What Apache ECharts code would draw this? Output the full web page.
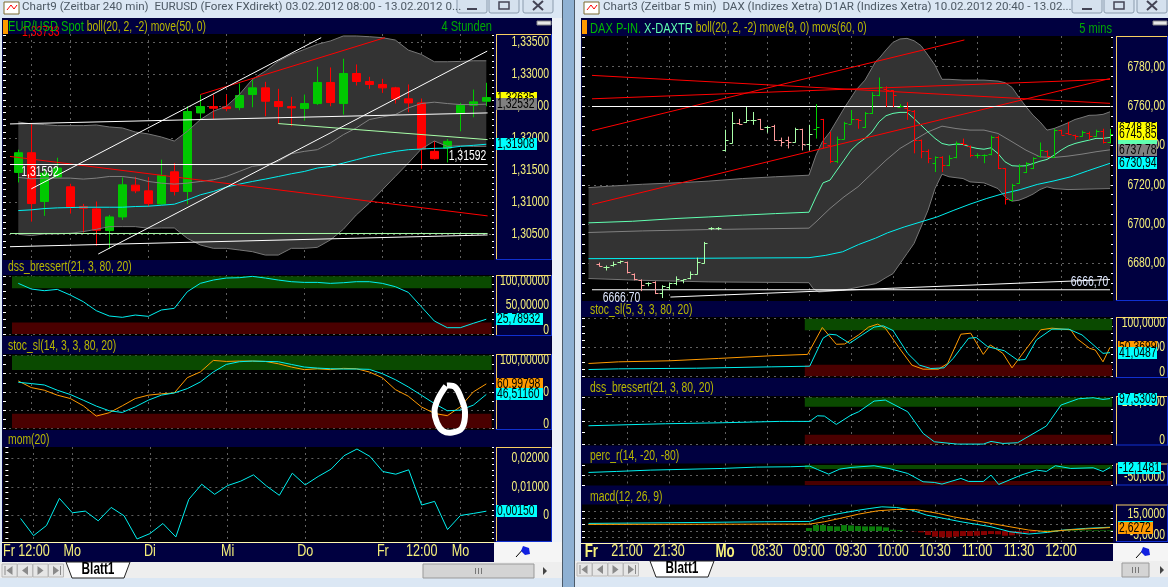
<!DOCTYPE html>
<html><head><meta charset="utf-8">
<style>html,body{margin:0;padding:0;background:#dfe8f2;overflow:hidden}#c{width:1168px;height:587px}</style>
<script src="https://cdn.jsdelivr.net/npm/echarts@6.0.0/dist/echarts.min.js"></script>
</head><body><div id="c"></div>
<script>
// ---------- EUR/USD (240 min): [open, close, low, high] ----------
const eurCandles=[[1.31469,1.31776,1.31313,1.31823],[1.31776,1.30984,1.30703,1.32224],[1.31016,1.31458,1.30792,1.31537],[1.31396,1.31537,1.3138,1.31698],[1.31245,1.30927,1.30828,1.31292],[1.30938,1.30912,1.30531,1.30979],[1.30901,1.30568,1.30328,1.31016],[1.30563,1.30776,1.30281,1.30807],[1.30776,1.31276,1.30729,1.31391],[1.31271,1.31182,1.31146,1.31401],[1.31182,1.30984,1.30938,1.31396],[1.30979,1.31422,1.30964,1.31667],[1.31479,1.31172,1.3111,1.31615],[1.31172,1.32417,1.30974,1.325],[1.32396,1.32495,1.32302,1.32677],[1.32495,1.32469,1.32302,1.32682],[1.3249,1.32464,1.32422,1.32682],[1.32479,1.32667,1.32438,1.32854],[1.32682,1.32786,1.32484,1.32917],[1.32786,1.32578,1.32344,1.3288],[1.32573,1.32495,1.32224,1.32771],[1.32495,1.32474,1.32188,1.32646],[1.32464,1.32542,1.32276,1.32682],[1.32542,1.3287,1.32521,1.33115],[1.3287,1.32557,1.325,1.33104],[1.32542,1.3301,1.3237,1.3324],[1.3301,1.32885,1.32823,1.33151],[1.32885,1.32839,1.32771,1.32958],[1.32839,1.32786,1.32708,1.32927],[1.32786,1.32615,1.32542,1.32802],[1.32615,1.32552,1.32406,1.32839],[1.32552,1.31833,1.31526,1.3262],[1.31797,1.31682,1.31667,1.31958],[1.31849,1.31953,1.31625,1.3199],[1.32385,1.32516,1.32109,1.32552],[1.32516,1.32568,1.32328,1.3276],[1.32578,1.32635,1.325,1.32865]];
const eurUpper=[1.32255,1.32224,1.32214,1.32198,1.32198,1.32198,1.32208,1.32177,1.32162,1.32099,1.32068,1.32021,1.31958,1.32109,1.32292,1.32422,1.325,1.32682,1.32917,1.33047,1.33203,1.33307,1.33385,1.33464,1.33516,1.33594,1.33594,1.33583,1.33568,1.33531,1.33375,1.33307,1.33193,1.33193,1.33198,1.33208,1.33208];
const eurLower=[1.30505,1.30485,1.30511,1.30511,1.30521,1.30547,1.30583,1.30625,1.30625,1.30625,1.30599,1.30604,1.30604,1.30443,1.30339,1.30287,1.30287,1.30261,1.30235,1.30182,1.30182,1.30287,1.30287,1.30302,1.30417,1.30583,1.30807,1.3099,1.31198,1.31406,1.31615,1.31833,1.31958,1.31875,1.31885,1.31875,1.31875];
const eurMid=[1.31391,1.3137,1.3138,1.3138,1.3138,1.31365,1.3138,1.31406,1.31406,1.3138,1.31328,1.31302,1.31287,1.31302,1.31328,1.31354,1.31406,1.31484,1.31563,1.31589,1.31641,1.3176,1.31797,1.31823,1.31927,1.32057,1.32162,1.32292,1.32333,1.3237,1.32474,1.32542,1.32563,1.32542,1.32526,1.32526,1.32532];
const eurMove=[1.30875,1.30886,1.30906,1.30917,1.30922,1.30927,1.30927,1.30927,1.30927,1.30938,1.30943,1.30958,1.30974,1.31042,1.3112,1.31172,1.3124,1.31287,1.31328,1.31365,1.31406,1.31448,1.31484,1.31537,1.31563,1.31615,1.31667,1.31719,1.3176,1.31797,1.31823,1.31833,1.31844,1.31849,1.31875,1.31891,1.31908];
const eurTrendWhite=[[[1,1.31214],[23.3,1.33568]],[[6.15,1.30198],[36.07,1.33359]],[[-0.64,1.31592],[36.1,1.31592]],[[-0.64,1.32224],[36.1,1.32396]],[[-0.64,1.30312],[36.1,1.30495]]];
const eurTrendGreen=[[[-0.64,1.30518],[36.1,1.30518]],[[20,1.3223],[36.1,1.3198]]];
const eurTrendRed=[[[14,1.32682],[28.2,1.33568]],[[-0.64,1.31718],[36.1,1.30792]]];
const eurDss=[88.4,78.5,75.6,77.9,68,56.4,40.7,31.4,29.1,33.1,30.8,41.9,44.8,73.8,88.4,94.2,97.7,98.3,100.6,97.7,94.2,91.3,90.1,90.1,88.4,89.5,91.3,91.3,88.4,82.6,72.7,47.7,22.7,11,11,18.6,25.79];
const eurStocSlow=[63.2,61.4,59.5,52.3,46.4,38.6,30.5,24.1,21.8,29.5,38.6,45.5,48.6,54.5,63.6,77.3,87.7,91.4,92.3,91.8,91.4,87.7,84.1,82.7,81.8,81.4,81.4,80.9,75,66.8,56.8,45.5,34.1,24.1,25,31.8,46.51];
const eurStocFast=[65,55.9,52.3,45.5,40.9,30.9,16.8,21.4,30.9,40.9,45.5,47.3,48.6,69.5,77.3,93.2,91.8,92.3,92.3,91.8,88.6,84.1,80.5,81.8,80.5,82.3,81.8,77.3,69.5,53.2,44.1,29.5,20.5,17.3,29.5,50,61];
const eurMom=[-.00106,-.00706,-.00353,.006,.00094,.00153,-.00188,.00282,-.00012,-.00824,-.00635,-.00282,-.00753,.00565,.01094,.00741,.01047,.012,.01424,.01035,.00706,.01482,.01071,.01365,.01624,.02094,.02329,.0207,.01541,.01447,.016,.00365,.00494,-.00494,0,.00071,.0015];
const eurGridBars=[1,4,10,16,22,28,31,34];
const eurTicks=[[0.45,'Fr 12:00'],[4,'Mo'],[10,'Di'],[16,'Mi'],[22,'Do'],[28,'Fr'],[31,'12:00'],[34,'Mo']];
// ---------- DAX (5 min): [open, high, low, close] ----------
const daxBars=[[6680,6680.5,6678.5,6679],[6678.5,6679,6676.5,6678.5],[6679.5,6681,6678.5,6680],[6681,6681.5,6680,6681.5],[6681,6681,6675,6675.5],[6674.5,6675,6671.5,6672],[6671.5,6672,6666,6669],[6670,6670.5,6668.5,6670],[6670.5,6671,6664.5,6665],[6665,6669,6662.5,6668.5],[6668,6670,6666.5,6670],[6670,6673.5,6669,6672],[6671.5,6672,6670,6672],[6672.5,6676,6672,6674.5],[6674.5,6683,6674.5,6681],[6680.5,6691,6680,6690.5],[6698,6698.5,6697,6698],[6698,6698.5,6697,6698],[6737.5,6748,6737,6743],[6741.5,6757,6741,6751.5],[6751.5,6753.5,6750.5,6751],[6752,6759.5,6751.5,6753],[6753,6757,6750.5,6753],[6753.5,6753.5,6748,6748.5],[6749.5,6750,6746.5,6749.5],[6750,6750.5,6742.5,6743],[6743,6744,6739.5,6742],[6743,6744.5,6738.5,6742],[6742,6749,6741.5,6748.5],[6748.5,6748.5,6737.5,6740.5],[6740.5,6750.5,6737.5,6746],[6748.5,6761,6743.5,6749.5],[6753.5,6753.5,6738.5,6741],[6740,6747,6731,6732],[6732,6744.5,6731,6743.5],[6743.5,6752,6743,6751.5],[6751,6758,6751,6753.5],[6753.5,6753.5,6748.5,6753],[6749.5,6757,6749,6756.5],[6756.5,6767,6756,6765.5],[6765.5,6774.5,6765,6769.5],[6768.5,6770,6759.5,6768],[6768,6768,6759.5,6765.5],[6759.5,6761,6759.5,6760],[6759,6762,6753,6758],[6757.5,6758,6736,6743],[6743,6743,6733.5,6737],[6737,6738,6731,6733.5],[6731,6734.5,6726.5,6734],[6734,6734.5,6726.5,6730],[6730,6735,6729.5,6733.5],[6734,6742,6733.5,6741.5],[6741.5,6743.5,6740,6740.5],[6739.5,6740,6734,6735],[6735,6736,6733.5,6735],[6735,6735.5,6731,6735],[6735.5,6745,6735,6744.5],[6744.5,6745,6728,6728.5],[6728.5,6728.5,6710,6713],[6712.5,6720.5,6712,6720],[6721,6730.5,6720.5,6729.5],[6726.5,6731.5,6726,6731],[6728.5,6734,6728,6733.5],[6734.5,6741.5,6734,6737.5],[6737,6737.5,6734,6734.5],[6734,6748.5,6734,6748],[6748,6748,6745.5,6745.5],[6746.5,6752,6745.5,6746],[6745.5,6745.5,6743,6745],[6745,6747.5,6744.5,6747],[6746.5,6747,6743,6745],[6745,6748,6744.5,6747.5],[6747.5,6748.5,6741,6742],[6742,6748.5,6741,6745.85]];
const daxUpper=[[-1.5,6718.6],[1.4,6719.3],[6.2,6720.3],[11,6721],[15.7,6721.9],[20.5,6723.2],[25.2,6724.1],[30,6724.9],[31,6735.1],[31.9,6741.9],[33,6746.9],[35,6758.8],[36.7,6768.1],[38,6773.2],[39.5,6782.5],[40,6784.2],[41,6788.5],[42,6792.4],[43,6794.1],[44,6794.4],[45,6793.2],[46,6790.7],[47,6785.9],[48,6780.8],[49,6773.6],[50,6773.6],[52,6773.2],[55,6773.2],[57,6772.7],[58,6771.9],[59,6769.5],[60,6764.4],[61,6759.7],[62,6755.4],[63,6752],[64,6747.8],[65,6748.6],[66,6750],[67,6751.5],[68,6753.2],[69,6754.2],[70,6755.3],[71,6755.4],[72,6755.8],[73,6757.1]];
const daxLower=[[-1.5,6672.4],[6.2,6671.5],[15.7,6670.7],[30,6670.3],[30.6,6667.3],[31.4,6665.6],[34.8,6666.4],[39.5,6669.8],[40,6670.7],[41,6672.9],[42,6674.9],[43,6680],[44,6685.1],[45,6690.2],[46,6698.6],[47,6707.1],[48,6718.1],[49,6725.4],[50,6724.1],[52,6723.2],[53,6721.5],[55,6721],[57,6718.1],[58,6713.9],[59,6711.7],[60,6712.2],[61,6713.6],[62,6715.3],[63,6717.6],[64,6719],[65,6718.1],[67,6717.6],[73,6718.1]];
const daxMid=[[-1.5,6695.8],[6.2,6696.6],[15.7,6697.3],[30,6698],[31,6701.2],[33,6708],[35,6713.9],[37,6719],[39,6725.8],[41,6732.5],[43,6738.5],[45,6742.7],[47,6746.9],[49,6749.8],[51,6748.6],[53,6747.8],[55,6747.8],[57,6746.1],[59,6741.9],[61,6737.6],[63,6734.2],[65,6733.9],[67,6734.6],[69,6735.6],[71,6736.8],[73,6737.78]];
const daxMove9=[[-1.5,6700.7],[4.8,6701.5],[11,6702.9],[15.7,6703.7],[20.5,6704.6],[25.2,6705.4],[30,6706.1],[31,6713.9],[32,6721],[33,6722.4],[34,6727.5],[35,6732.5],[36,6737.6],[37,6741],[38,6743.6],[39,6746.9],[40,6752],[41,6755.1],[42,6756.3],[43,6756.8],[44,6756.8],[45,6753.7],[46,6750.3],[47,6746.9],[48,6743.6],[49,6741],[50,6740.2],[51,6740.7],[52,6740.5],[53,6739.3],[54,6738.5],[55,6738.1],[56,6738.8],[57,6735.9],[58,6731.7],[59,6729.7],[60,6729.5],[61,6729.7],[62,6730.8],[63,6732],[64,6732.9],[65,6735.1],[66,6737.6],[67,6739.7],[68,6741],[69,6741.9],[70,6742.7],[71,6743.6],[72,6743.6],[73,6744.1]];
const daxMovs60=[[-1.5,6682.5],[13.8,6682.7],[30,6683],[32.4,6684.2],[34.8,6686],[37.1,6689.7],[39.5,6692.9],[41.2,6695.6],[43.6,6698.6],[46,6701.2],[48.3,6703.7],[50.7,6707.1],[53,6710.2],[55.4,6713.1],[57.8,6715.6],[60.2,6717.6],[62.6,6720.2],[65,6722],[67.4,6724.1],[69.8,6727.1],[73,6730.94]];
const daxTrendWhite=[[[-1,6759.79],[73,6759.79]],[[-1,6666.7],[73,6666.7]],[[10.2,6663],[73,6671.9]]];
const daxTrendRed=[[[-1,6747.5],[52.2,6793.6]],[[-1,6710],[73,6774]],[[-1,6775.6],[73,6761.4]],[[-1,6763.7],[73,6773.6]]];
const daxStocFast=[[-1.5,22.2],[2.8,25.1],[10.1,26.9],[17.1,31],[24.7,35.7],[29.8,38],[31.9,84.8],[33.9,55.6],[35.1,56.1],[37.1,71.9],[38.5,85.4],[39.8,90.6],[40.9,83.6],[43.1,45.6],[44.7,19.3],[46.3,12.3],[48.5,12.3],[49.8,22.2],[51.7,73.1],[53.1,74.9],[54.9,38],[55.9,54.4],[57.7,39.8],[59,14.6],[60.9,45.6],[63.1,80.7],[64.7,83.6],[67.4,80.7],[68.2,66.1],[70.1,48.5],[70.9,45.6],[72,25.1],[73,50.37]];
const daxStocSlow=[[-1.5,11.7],[2.8,12.9],[13.9,14],[24.7,16.4],[30.1,17.5],[32,66.1],[32.9,73.1],[33.9,71.9],[35.8,57.3],[37.6,71.9],[39.3,85.4],[40.6,87.7],[42,79.5],[44.1,39.8],[45.8,19.3],[47.4,13.5],[49.3,14.6],[50.6,31],[52.8,66.1],[53.9,67.3],[55.5,51.5],[57.9,44.4],[59.8,28.1],[60.9,29.2],[62.5,63.2],[64.7,81.9],[67.1,81.9],[69,71.9],[72,39.8],[73,41.05]];
const daxDss=[[-1.5,39.3],[9.5,43.6],[17.6,45.7],[25.8,48.6],[30.1,48.6],[31.2,60.7],[32.2,60],[33.9,42.1],[36,62.1],[37.1,69.3],[39.3,92.1],[40.9,94.3],[44.1,69.3],[46.3,22.9],[47.9,5],[51.2,0],[54.9,0],[56,5.7],[57.7,1.4],[59.8,2.9],[63.9,38.6],[66,83.6],[68.5,97.1],[70.6,99.3],[72,95.7],[73,97.53]];
const daxPerc=[[-1.5,-36.7],[2.5,-31.7],[7.4,-25],[17.6,-16.7],[22.5,-10],[27.4,-8.3],[30.1,-5],[31.2,-21.7],[32.8,-45],[34.4,-20],[36,-11.7],[39.3,-3.3],[41.4,-16.7],[44.1,-41.7],[46.3,-83.3],[47.9,-86.7],[49,-95],[51.7,-66.7],[52.8,-81.7],[54.9,-81.7],[56,-50],[57.1,-96.7],[60.3,-50],[62.5,-25],[63.9,-31.7],[65.2,-3.3],[67.4,-16.7],[70.6,-13.3],[72,-31.7],[73,-12.15]];
const daxMacd=[[-1.5,5.75],[10.1,6.25],[23.6,7],[30.1,7.25],[32,10.75],[34.4,13.25],[37.1,15.75],[38.7,17],[40.4,18.25],[42.5,17.75],[44.7,15.75],[46.8,12],[49.3,9.5],[51.7,7],[56,3.25],[58.7,-0.5],[61.4,-2.25],[64.1,-1],[66.3,.75],[69.5,2],[73,2.9]];
const daxSignal=[[-1.5,5],[30.1,5.25],[32.2,7],[34.4,9.5],[37.1,12.75],[39.8,15.25],[42.5,16.25],[45.2,16.25],[48.5,13.25],[50.6,10.75],[53.3,8.25],[56,5.75],[58.7,3.25],[61.4,.75],[64.1,-.5],[66.8,.75],[73,2.63]];
const daxHistStart=30;
const daxHist=[2.25,4.5,4.5,3.75,3.5,4.5,4.25,3.75,3.5,3.5,3.5,2.75,1,.75,0,-.25,-1,-3,-4.25,-4.75,-4.75,-4.25,-3.75,-3.75,-3.5,-3,-2.25,-2.5,-3.5,-3.25,-2.5,-1.75,-1,0,.5,.5,.5,.5,.5,.5,.5,.5,.5,.5];
const daxGridBars=[4,10,18,24,30,36,42,48,54,60,66];
const daxTicks=[[-1.1,'Fr'],[4,'21:00'],[10,'21:30'],[18,'Mo'],[24,'08:30'],[30,'09:00'],[36,'09:30'],[42,'10:00'],[48,'10:30'],[54,'11:00'],[60,'11:30'],[66,'12:00']];

// the reference uses a condensed face: squeeze "Liberation Sans" text horizontally when it is painted and measured
const SQUEEZE=.74, cproto=CanvasRenderingContext2D.prototype, fillT=cproto.fillText, measT=cproto.measureText;
cproto.fillText=function(t,x,y,m){
  if(this.font.indexOf('Liberation')>=0){this.save();this.translate(x,y);this.scale(SQUEEZE,1);fillT.call(this,t,0,0);this.restore();}
  else if(m===undefined)fillT.call(this,t,x,y); else fillT.call(this,t,x,y,m);
};
cproto.measureText=function(t){const r=measT.call(this,t);return this.font.indexOf('Liberation')>=0?{width:r.width*SQUEEZE}:r;};

// ---------- build helpers ----------
const NARROW='"Liberation Sans",sans-serif';
const YEL='#f6f07a',OLIVE='#b8b800',NAVY='#000040',GREEN='#00c800',RED='#ff0000',CY='#00f0f0',OR='#ff9a00',SEA='#60ffb0',PALE='#a8ffa8',ZG='#0a4a00',ZR='#4a0000';
const grids=[],xAxes=[],yAxes=[],series=[];
const range=(a,b,s)=>{const r=[];for(let i=0;a+i*s<=b+1e-9;i++)r.push(+(a+i*s).toFixed(6));return r;};
function panel(p){
  const g=grids.length;
  grids.push({left:p.l,top:p.t,width:p.r-p.l,height:p.b-p.t,containLabel:false});
  const labelAt=p.labels.map(a=>a[0]);
  const gridLine={show:true,lineStyle:{color:'#606060',type:[2,4],width:1}};
  xAxes.push({gridIndex:g,type:'value',min:p.xmin,max:p.xmax,
    axisLine:{show:false},
    axisTick:{show:false,customValues:p.gridBars},
    splitLine:gridLine,
    axisLabel:p.xlabels?{show:true,customValues:p.xlabels.map(a=>a[0]),margin:3,fontFamily:NARROW,fontSize:17,color:YEL,hideOverlap:false,showMinLabel:true,showMaxLabel:true,
      formatter:v=>{const e=p.xlabels.find(a=>Math.abs(a[0]-v)<1e-6);if(!e)return'';return (e[1]==='Fr'&&p.boldFr)||(e[1]==='Mo'&&p.boldFr)?'{b|'+e[1]+'}':e[1];},
      rich:{b:{fontWeight:'bold',fontFamily:NARROW,fontSize:18,color:YEL}}}:{show:false}});
  const y0=yAxes.length;
  yAxes.push({gridIndex:g,type:'value',position:'right',min:p.ymin,max:p.ymax,
    axisLine:{show:false},
    axisTick:{show:false,customValues:p.majors},
    splitLine:gridLine,
    axisLabel:{show:true,customValues:labelAt,inside:false,align:'right',margin:p.lm,fontFamily:NARROW,fontSize:14,color:YEL,hideOverlap:false,showMinLabel:true,showMaxLabel:true,
      formatter:v=>{const e=p.labels.find(a=>Math.abs(a[0]-v)<1e-6);return e?e[1]:'';}}});
  yAxes.push({gridIndex:g,type:'value',position:'right',min:p.ymin,max:p.ymax,
    axisLine:{show:false},splitLine:{show:false},axisLabel:{show:false},
    axisTick:{show:true,inside:true,length:2,customValues:p.ticks,lineStyle:{color:'#fff',width:1}}});
  yAxes.push({gridIndex:g,type:'value',position:'left',min:p.ymin,max:p.ymax,
    axisLine:{show:false},splitLine:{show:false},axisLabel:{show:false},
    axisTick:{show:true,inside:true,length:3,customValues:p.ticks,lineStyle:{color:'#fff',width:1}}});
  return {xAxisIndex:g,yAxisIndex:y0,xmax:p.xmax};
}
function line(P,data,color,w,z){series.push({type:'line',xAxisIndex:P.xAxisIndex,yAxisIndex:P.yAxisIndex,data,symbol:'none',silent:true,animation:false,z:z||4,
  lineStyle:{color,width:w||1}});}
const idx=a=>a.map((v,i)=>[i,v]);
function polygonBand(P,up,low,fill){series.push({type:'custom',xAxisIndex:P.xAxisIndex,yAxisIndex:P.yAxisIndex,coordinateSystem:'cartesian2d',clip:true,silent:true,z:1,animation:false,
  data:[up[0]],encode:{x:0,y:1},
  renderItem:(params,api)=>({type:'polygon',shape:{points:up.concat(low.slice().reverse()).map(q=>api.coord(q))},style:{fill}})});}
function zones(P,rects){series.push({type:'custom',xAxisIndex:P.xAxisIndex,yAxisIndex:P.yAxisIndex,clip:true,silent:true,z:1,animation:false,
  data:rects,encode:{x:[0,1],y:[2,3]},
  renderItem:(params,api)=>{const a=api.coord([api.value(0),api.value(3)]),b=api.coord([api.value(1),api.value(2)]);
    return {type:'rect',shape:{x:a[0],y:a[1],width:b[0]-a[0],height:b[1]-a[1]},style:{fill:rects[params.dataIndex][4]}};}});}
function tags(P,items,left){series.push({type:'custom',xAxisIndex:P.xAxisIndex,yAxisIndex:P.yAxisIndex,clip:false,silent:true,z:6,animation:false,
  data:items.map(t=>[P.xmax,t[0]]),encode:{x:0,y:1},
  renderItem:(params,api)=>{const t=items[params.dataIndex],c=api.coord([P.xmax,t[0]]);
    return {type:'group',children:[
      {type:'rect',shape:{x:left,y:Math.round(c[1])-6,width:t[3],height:12},style:{fill:t[2]}},
      {type:'text',style:{text:t[1],x:left+1,y:Math.round(c[1])+.5,verticalAlign:'middle',font:'14px '+NARROW,fill:'#000'}}]};}});}
function notes(P,items,color){series.push({type:'custom',xAxisIndex:P.xAxisIndex,yAxisIndex:P.yAxisIndex,clip:false,silent:true,z:5,animation:false,
  data:items.map(t=>[t[0],t[1]]),encode:{x:0,y:1},
  renderItem:(params,api)=>{const t=items[params.dataIndex],c=api.coord([t[0],t[1]]);
    return {type:'text',style:{text:t[2],x:c[0],y:c[1]+t[3],align:'center',verticalAlign:'middle',font:'14px '+NARROW,fill:color}};}});}

// ---------- EUR/USD window ----------
const EX=px=>(px-18.3)/13, eurL=3,eurR=494;
const eurX={l:eurL,r:eurR,xmin:EX(eurL),xmax:EX(eurR),gridBars:eurGridBars,lm:55};
const em=panel({...eurX,t:34,b:260,ymin:1.30105,ymax:1.33625,majors:range(1.305,1.335,.005),ticks:range(1.302,1.336,.001),
  labels:[1.335,1.33,1.325,1.32,1.315,1.31,1.305].map(v=>[v,v.toFixed(5).replace('.',',')])});
polygonBand(em,idx(eurUpper),idx(eurLower),'#333333');
line(em,idx(eurUpper),'#777');line(em,idx(eurLower),'#777');line(em,idx(eurMid),'#808080');
series.push({type:'candlestick',xAxisIndex:em.xAxisIndex,yAxisIndex:em.yAxisIndex,barWidth:9,silent:true,animation:false,z:3,
  data:eurCandles.map((c,i)=>[i,...c]),encode:{x:0,y:[1,2,3,4]},
  itemStyle:{color:GREEN,color0:RED,borderColor:GREEN,borderColor0:RED,borderWidth:1}});
line(em,idx(eurMove),CY);
eurTrendRed.forEach(d=>line(em,d,RED));
eurTrendGreen.forEach(d=>line(em,d,PALE));
eurTrendWhite.forEach(d=>line(em,d,'#fff',1,5));
notes(em,[[1.67,1.31592,'1,31592',7.5],[34.55,1.31592,'1,31592',-8.5]],'#fff');
tags(em,[[1.32635,'1,32635','#ffff00',41],[1.32532,'1,32532','#808080',41],[1.31908,'1,31908','#00ffff',41]],496);

const e1=panel({...eurX,t:275,b:336,ymin:-3.5,ymax:103,majors:[0,50,100],ticks:range(0,100,12.5),labels:[[93,'100,00000'],[50,'50,00000'],[7,'0']]});
zones(e1,[[EX(12),EX(491.6),80,101,ZG],[EX(12),EX(491.6),0,20,ZR]]);
line(e1,idx(eurDss),CY);
tags(e1,[[25.79,'25,78932','#00ffff',47]],496);

const e2=panel({...eurX,t:354,b:430,ymin:-2.3,ymax:102,majors:[0,25,50,75,100],ticks:range(0,100,12.5),labels:[[94,'100,00000'],[50,'50,00000'],[5.5,'0']]});
zones(e2,[[EX(12),EX(491.6),80,100,ZG],[EX(12),EX(491.6),0,20,ZR]]);
line(e2,idx(eurStocFast),OR);line(e2,idx(eurStocSlow),CY);
tags(e2,[[61,'60,99798',OR,47],[46.51,'46,51160','#00ffff',47]],496);

const e3=panel({...eurX,t:447,b:542,ymin:-.0093,ymax:.024,majors:[0,.01,.02],ticks:range(-.008,.024,.002),labels:[[.02,'0,02000'],[.01,'0,01000'],[0,'0']],xlabels:eurTicks});
line(e3,idx(eurMom),CY);
tags(e3,[[.0015,'0,00150','#00ffff',41]],496);

// ---------- DAX window ----------
const DX=px=>(px-599)/7, daxL=582,daxR=1113;
const daxX={l:daxL,r:daxR,xmin:DX(daxL),xmax:DX(daxR),gridBars:daxGridBars,lm:52};
const dm=panel({...daxX,t:36,b:301,ymin:6661,ymax:6795.6,majors:range(6680,6780,20),ticks:range(6665,6795,5),
  labels:[6780,6760,6740,6720,6700,6680].map(v=>[v,v.toFixed(2).replace('.',',')])});
polygonBand(dm,daxUpper,daxLower,'#333333');
line(dm,daxUpper,'#777');line(dm,daxLower,'#777');line(dm,daxMid,'#808080');
line(dm,daxMove9,SEA);line(dm,daxMovs60,CY);
daxTrendRed.forEach(d=>line(dm,d,RED));
daxTrendWhite.forEach(d=>line(dm,d,'#fff'));
series.push({type:'custom',xAxisIndex:dm.xAxisIndex,yAxisIndex:dm.yAxisIndex,clip:true,silent:true,z:5,animation:false,
  data:daxBars.map((b,i)=>[i,...b]),encode:{x:0,y:[1,2,3,4]},
  renderItem:(params,api)=>{
    const i=api.value(0),o=api.value(1),h=api.value(2),l=api.value(3),c=api.value(4);
    const up=c>=o,color=i<=30?(up?PALE:'#ff9c9c'):(up?'#00d000':RED);
    const pO=api.coord([i,o]),pH=api.coord([i,h]),pL=api.coord([i,l]),pC=api.coord([i,c]);
    const x=Math.round(pO[0])+.5,st={stroke:color,lineWidth:1};
    const seg=(a,b,e,f)=>({type:'line',shape:{x1:a,y1:b,x2:e,y2:f},style:st});
    return {type:'group',children:[seg(x,pH[1],x,pL[1]),seg(x-3,Math.round(pO[1])+.5,x,Math.round(pO[1])+.5),seg(x,Math.round(pC[1])+.5,x+3,Math.round(pC[1])+.5)]};
  }});
notes(dm,[[DX(621.5),6666.7,'6666.70',8],[DX(1089.5),6666.7,'6666,70',-7.5]],'#dfe8ff');
tags(dm,[[6748.85,'6748,85','#ffff00',39],[6743.6,'',SEA,39],[6745.85,'6745,85','#ffff00',39],[6737.78,'6737,78','#808080',39],[6730.94,'6730,94','#00ffff',39]],1118);

const d1=panel({...daxX,t:317,b:378,ymin:-3,ymax:103,majors:[0,50,100],ticks:range(0,100,12.5),labels:[[92,'100,0000'],[50,'50,0000'],[7,'0']]});
zones(d1,[[29.4,73.3,80,100,ZG],[29.4,73.3,0,20,ZR]]);
line(d1,daxStocFast,OR);line(d1,daxStocSlow,CY);
tags(d1,[[50.37,'50,3699',OR,39],[41.05,'41,0487','#00ffff',39]],1118);

const d2=panel({...daxX,t:396,b:445.5,ymin:-3,ymax:103,majors:[0,50,100],ticks:range(0,100,25),labels:[[90,'100,0000'],[9,'0']]});
zones(d2,[[29.4,73.3,80,100,ZG],[29.4,73.3,0,20,ZR]]);
line(d2,daxDss,CY);
tags(d2,[[97.53,'97,5309','#00ffff',39]],1118);

const d3=panel({...daxX,t:463.5,b:485.5,ymin:-102,ymax:8,majors:[-50],ticks:[-100,-50,0],labels:[[-58,'-50,0000']]});
zones(d3,[[29.4,73.3,-20,0,ZG],[29.4,73.3,-100,-80,ZR]]);
line(d3,daxPerc,CY);
tags(d3,[[-12.15,'-12,1481','#00ffff',43]],1118);

const d4=panel({...daxX,t:504.5,b:542,ymin:-8.25,ymax:20,majors:[-5,0,5,10,15],ticks:range(-5,15,5),labels:[[13,'15,0000'],[-3,'-5,0000']],xlabels:daxTicks,boldFr:true});
series.push({type:'bar',xAxisIndex:d4.xAxisIndex,yAxisIndex:d4.yAxisIndex,barWidth:6,silent:true,animation:false,z:2,
  data:daxHist.map((v,i)=>[daxHistStart+i,v]),
  itemStyle:{color:p=>p.value[1]>=0?'#0a7a0a':'#860000'}});
line(d4,daxMacd,CY);line(d4,daxSignal,OR);
tags(d4,[[2.9,'',CY,35],[2.63,'2,6272',OR,35]],1118);

// ---------- window chrome (not data) ----------
const rect=(x,y,w,h,fill,z,extra)=>({type:'rect',shape:{x,y,width:w,height:h},style:Object.assign({fill},extra||{}),z:z===undefined?-5:z,silent:true});
const txt=(text,x,y,font,fill,z,extra)=>({type:'text',style:Object.assign({text,x,y,font,fill,verticalAlign:'middle'},extra||{}),z:z===undefined?-3:z,silent:true});
const seg=(a,b,c,d,stroke,z,w)=>({type:'line',shape:{x1:a,y1:b,x2:c,y2:d},style:{stroke,lineWidth:w||1},z:z===undefined?-3:z,silent:true});
const gr=[];
gr.push(rect(0,0,1168,587,'#dbe7f4',-9));
gr.push(rect(563,0,12,587,'#8fb1d3',-9),rect(562,0,1,587,'#4c5a68',-9),rect(574,0,1,587,'#4c5a68',-9));
function valuePanel(x,w,t,b){
  gr.push(rect(x,t,w,b-t,NAVY,-5));
  gr.push(seg(x,t+.5,x+w,t+.5,'#f8d060',-4),seg(x+.5,t,x+.5,b,'#f8d060',-4));
  gr.push(seg(x,b-.5,x+w,b-.5,'#1030d0',-4),seg(x+w-.5,t,x+w-.5,b,'#1030d0',-4));
}
function windowFrame(W){
  gr.push(rect(W.x0,0,W.x1-W.x0,18,'#dbe7f4',-8));
  gr.push(rect(W.px0-1,18,W.x1-W.px0+1,W.bottom-18,NAVY,-8));
  W.plots.forEach(p=>{gr.push(rect(W.px0,p[0],W.px1-W.px0,p[1]-p[0],'#000',-6));valuePanel(W.vx,W.vw,p[0],p[1]);});
  gr.push(rect(W.px0,20,5,14,'#ff9a00',-4),rect(W.vx+W.vw-15,21,14,4,'#e8e8e8',-4,{stroke:'#888',lineWidth:1}));
  gr.push(rect(W.icon,2,15,12,'#fff',-4,{stroke:'#7a6a30',lineWidth:1}),seg(W.icon+3,10,W.icon+7,5,RED,-3),seg(W.icon+7,5,W.icon+10,9,RED,-3),seg(W.icon+10,9,W.icon+13,5,RED,-3));
  W.btn.forEach((b,k)=>{gr.push({type:'rect',shape:{x:b,y:-2,width:30,height:15,r:2},style:{fill:'#d5e1ee',stroke:'#8b9bad',lineWidth:1},z:-4,silent:true});
    const c=b+15;
    if(k===0)gr.push(rect(c-5,8,10,2,'#445',-3));
    if(k===1)gr.push(rect(c-5,2,10,7,'none',-3,{stroke:'#445',lineWidth:1.5}));
    if(k===2)gr.push(seg(c-5,1,c+5,10,'#445',-3,2),seg(c+5,1,c-5,10,'#445',-3,2));});
  gr.push(rect(W.px0-1,W.axisTop,W.px1-W.px0+1,W.axisBottom-W.axisTop,NAVY,-6));
  gr.push(seg(W.px0-1,W.axisTop+.5,W.px1,W.axisTop+.5,'#fff8b0',-3));
  gr.push(rect(W.px1,W.axisTop,W.x1-W.px1,W.axisBottom-W.axisTop,'#f5f5f5',-6));
  const fx=W.flag;
  gr.push(seg(fx-7,W.axisTop+15,fx+2,W.axisTop+5,'#000',-3));
  gr.push({type:'polygon',shape:{points:[[fx,W.axisTop+4],[fx+6,W.axisTop+6],[fx+7,W.axisTop+12],[fx+2,W.axisTop+13],[fx-2,W.axisTop+9]]},style:{fill:'#1020e0'},z:-3,silent:true});
  gr.push(rect(W.x0,W.axisBottom,W.x1-W.x0,16,'#eeeeee',-6));
  const sx=W.x0+2,by=W.axisBottom+2;
  [0,15.5,31,46.5].forEach((d,k)=>{
    gr.push(rect(sx+d,by,15,13,'#e6e6e6',-5,{stroke:'#b8b8b8',lineWidth:1}));
    const c=sx+d+7.5,pts=k<2?[[c+3,by+2],[c+3,by+11],[c-3,by+6.5]]:[[c-3,by+2],[c-3,by+11],[c+3,by+6.5]];
    gr.push({type:'polygon',shape:{points:pts},style:{fill:'#8a8a8a'},z:-4,silent:true});
    if(k===0)gr.push(seg(c-4.5,by+2,c-4.5,by+11,'#8a8a8a',-4));
    if(k===3)gr.push(seg(c+4.5,by+2,c+4.5,by+11,'#8a8a8a',-4));
  });
  gr.push({type:'polygon',shape:{points:[[W.tab,W.axisBottom],[W.tab+64,W.axisBottom],[W.tab+58,W.axisBottom+16],[W.tab+6,W.axisBottom+16]]},style:{fill:'#fff',stroke:'#222',lineWidth:1},z:-4,silent:true});
  gr.push(txt('Blatt1',W.tab+32,W.axisBottom+8,'bold 16px '+NARROW,'#000',-3,{align:'center'}));
  gr.push(rect(W.thumb,W.axisBottom+2,W.thumbW,14,'#d4d4d4',-4,{stroke:'#999',lineWidth:1}));
  [-3,0,3].forEach(o=>gr.push(seg(W.thumb+W.thumbW/2+o,W.axisBottom+6,W.thumb+W.thumbW/2+o,W.axisBottom+12,'#777',-3)));
  gr.push({type:'polygon',shape:{points:[[W.arrow,W.axisBottom+5],[W.arrow,W.axisBottom+13],[W.arrow+4,W.axisBottom+9]]},style:{fill:'#444'},z:-3,silent:true});
}
windowFrame({x0:0,x1:562,px0:3,px1:494,vx:496,vw:56,bottom:543,icon:4,btn:[457,489,523],axisTop:542,axisBottom:562,flag:523,tab:66,thumb:423,thumbW:111,arrow:543,
  plots:[[34,260],[275,336],[354,430],[447,542]]});
gr.push(rect(552,18,10,525,'#eef2f7',-7));
windowFrame({x0:575,x1:1168,px0:582,px1:1113,vx:1116,vw:52,bottom:543,icon:584,btn:[1072,1104,1137],axisTop:543,axisBottom:561,flag:1143,tab:650,thumb:1122,thumbW:27,arrow:1160,
  plots:[[36,301],[317,378],[396,445.5],[463.5,485.5],[504.5,542]]});
gr.push(rect(575,18,6,525,'#dbe7f4',-7));
gr.unshift(txt('1,33733',22,32,'14px '+NARROW,RED,-5.5));
const TF='11.6px Roboto,sans-serif',TC='#4d5964';
gr.push(txt('Chart9 (Zeitbar 240 min)  EURUSD (Forex FXdirekt) 03.02.2012 08:00 - 13.02.2012 0...',22,7,TF,TC));
gr.push(txt('Chart3 (Zeitbar 5 min)  DAX (Indizes Xetra) D1AR (Indizes Xetra) 10.02.2012 20:40 - 13.02...',603,7,TF,TC));
function band(text,x,y,rich){gr.push({type:'text',style:{text,x,y,verticalAlign:'middle',font:'14px '+NARROW,fill:OLIVE,rich:rich||{}},z:-3,silent:true});}
const richH={g:{fill:'#00b800',font:'15px '+NARROW},s:{fill:SEA,font:'15px '+NARROW},o:{fill:OLIVE,font:'14px '+NARROW}};
band('{g|EUR/USD Spot} {o|boll(20, 2, -2) move(50, 0)}',8,27,richH);
band('{g|DAX P-IN.} {s|X-DAXTR} {o|boll(20, 2, -2) move(9, 0) movs(60, 0)}',590,28.5,richH);
gr.push(txt('4 Stunden',492,27,'15px '+NARROW,'#00a800',-3,{align:'right'}));
gr.push(txt('5 mins',1112,29,'15px '+NARROW,'#00a800',-3,{align:'right'}));
band('dss_bressert(21, 3, 80, 20)',8,267);
band('stoc_sl(14, 3, 3, 80, 20)',8,346);
band('mom(20)',8,440);
band('stoc_sl(5, 3, 3, 80, 20)',590,310);
band('dss_bressert(21, 3, 80, 20)',590,388);
band('perc_r(14, -20, -80)',590,456);
band('macd(12, 26, 9)',590,497);
gr.push({type:'polyline',shape:{points:[[446,386],[438,399],[434.5,411],[437,423],[443,431],[452,432.5],[462,428],[465,412],[461,398],[455,387],[447,385.5]],smooth:0.4},style:{stroke:'#fff',fill:'none',lineWidth:6},z:40,silent:true});

const chart=echarts.init(document.getElementById('c'),null,{renderer:'canvas',width:1168,height:587});
chart.setOption({animation:false,backgroundColor:'#dbe7f4',tooltip:{show:false},legend:{show:false},
  graphic:{elements:gr},grid:grids,xAxis:xAxes,yAxis:yAxes,series});
</script></body></html>
